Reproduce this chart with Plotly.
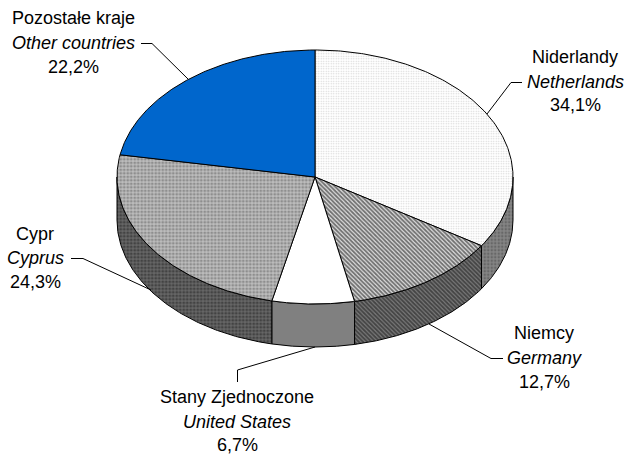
import numpy as np
import plotly.graph_objects as go

# Data (clockwise from 12 o'clock)
names_pl = ["Niderlandy", "Niemcy", "Stany Zjednoczone", "Cypr", "Pozostałe kraje"]
names_en = ["Netherlands", "Germany", "United States", "Cyprus", "Other countries"]
values = [34.1, 12.7, 6.7, 24.3, 22.2]
value_labels = ["34,1%", "12,7%", "6,7%", "24,3%", "22,2%"]

# Layout of the drawing (pixels)
W, H = 627, 454
CX, CY, RX, RY, DEPTH = 315, 177, 198, 127, 43
LABEL_CENTERS = [(575, (57, 82, 105)), (544, (333, 358, 382)), (237, (397, 422, 445)),
                 (35, (234, 258, 282)), (73, (18, 43, 67))]
LEADERS = [[(522, 82.5), (511, 82.5), (487, 114)],
           [(503, 358.5), (491, 358.5), (429, 324)],
           [(237.5, 382), (237.5, 370), (315, 347)],
           [(71, 258.5), (83, 258.5), (151, 290)],
           [(141, 43.5), (152, 43.5), (188, 79)]]

TOP_STYLE = [
    dict(fillcolor="#ffffff", fillpattern=dict(shape=".", size=2.5, solidity=0.25, fgcolor="#a8a8a8", bgcolor="#ffffff")),
    dict(fillcolor="#ffffff", fillpattern=dict(shape="\\", size=3, solidity=0.6, fgcolor="#000000", bgcolor="#e0e0e0")),
    dict(fillcolor="#ffffff"),
    dict(fillcolor="#b0b0b0", fillpattern=dict(shape=".", size=3.5, solidity=0.5, fgcolor="#606060", bgcolor="#bdbdbd")),
    dict(fillcolor="#0066cc"),
]
SIDE_STYLE = [
    dict(fillcolor="#808080", fillpattern=dict(shape=".", size=3.5, solidity=0.4, fgcolor="#4a4a4a", bgcolor="#858585")),
    dict(fillcolor="#555555", fillpattern=dict(shape="\\", size=3, solidity=0.6, fgcolor="#0d0d0d", bgcolor="#7a7a7a")),
    dict(fillcolor="#808080"),
    dict(fillcolor="#555555", fillpattern=dict(shape=".", size=3.5, solidity=0.5, fgcolor="#202020", bgcolor="#666666")),
    None,
]

def px(a):
    return CX + RX * np.sin(a)

def py(a):
    return CY - RY * np.cos(a)

edges = np.radians(np.concatenate([[0], np.cumsum(values)]) / sum(values) * 360)
fig = go.Figure()

# Side walls: only the front half (90°..270°) of the rim shows
front_lo, front_hi = np.pi / 2, 3 * np.pi / 2
for i in range(len(values)):
    lo, hi = max(edges[i], front_lo), min(edges[i + 1], front_hi)
    if hi <= lo or SIDE_STYLE[i] is None:
        continue
    t = np.linspace(lo, hi, 120)
    xs = np.concatenate([px(t), px(t[::-1]), [px(t[0])]])
    ys = np.concatenate([py(t), py(t[::-1]) + DEPTH, [py(t[0])]])
    fig.add_trace(go.Scatter(x=xs, y=ys, mode="lines", fill="toself",
                             line=dict(color="#000000", width=1), hoverinfo="skip",
                             showlegend=False, **SIDE_STYLE[i]))

# Top slices
for i in range(len(values)):
    t = np.linspace(edges[i], edges[i + 1], 200)
    xs = np.concatenate([[CX], px(t), [CX]])
    ys = np.concatenate([[CY], py(t), [CY]])
    fig.add_trace(go.Scatter(x=xs, y=ys, mode="lines", fill="toself",
                             line=dict(color="#000000", width=1), hoverinfo="skip",
                             showlegend=False, **TOP_STYLE[i]))

# Leader lines
for pts in LEADERS:
    fig.add_trace(go.Scatter(x=[p[0] for p in pts], y=[p[1] for p in pts], mode="lines",
                             line=dict(color="#000000", width=1), hoverinfo="skip", showlegend=False))

# Labels
for i, (xc, ys) in enumerate(LABEL_CENTERS):
    lines = [names_pl[i], "<i>" + names_en[i] + "</i>", value_labels[i]]
    for text, y in zip(lines, ys):
        fig.add_annotation(x=xc, y=y, xref="x", yref="y", text=text, showarrow=False,
                           xanchor="center", yanchor="middle",
                           font=dict(family="Liberation Sans", size=18, color="#000000"))

fig.update_layout(width=W, height=H, margin=dict(l=0, r=0, t=0, b=0),
                  paper_bgcolor="#ffffff", plot_bgcolor="#ffffff",
                  xaxis=dict(range=[0, W], visible=False, fixedrange=True),
                  yaxis=dict(range=[H, 0], visible=False, fixedrange=True))
fig.write_html("out.html", config=dict(displayModeBar=False),
               post_script="document.body.style.margin='0';")
